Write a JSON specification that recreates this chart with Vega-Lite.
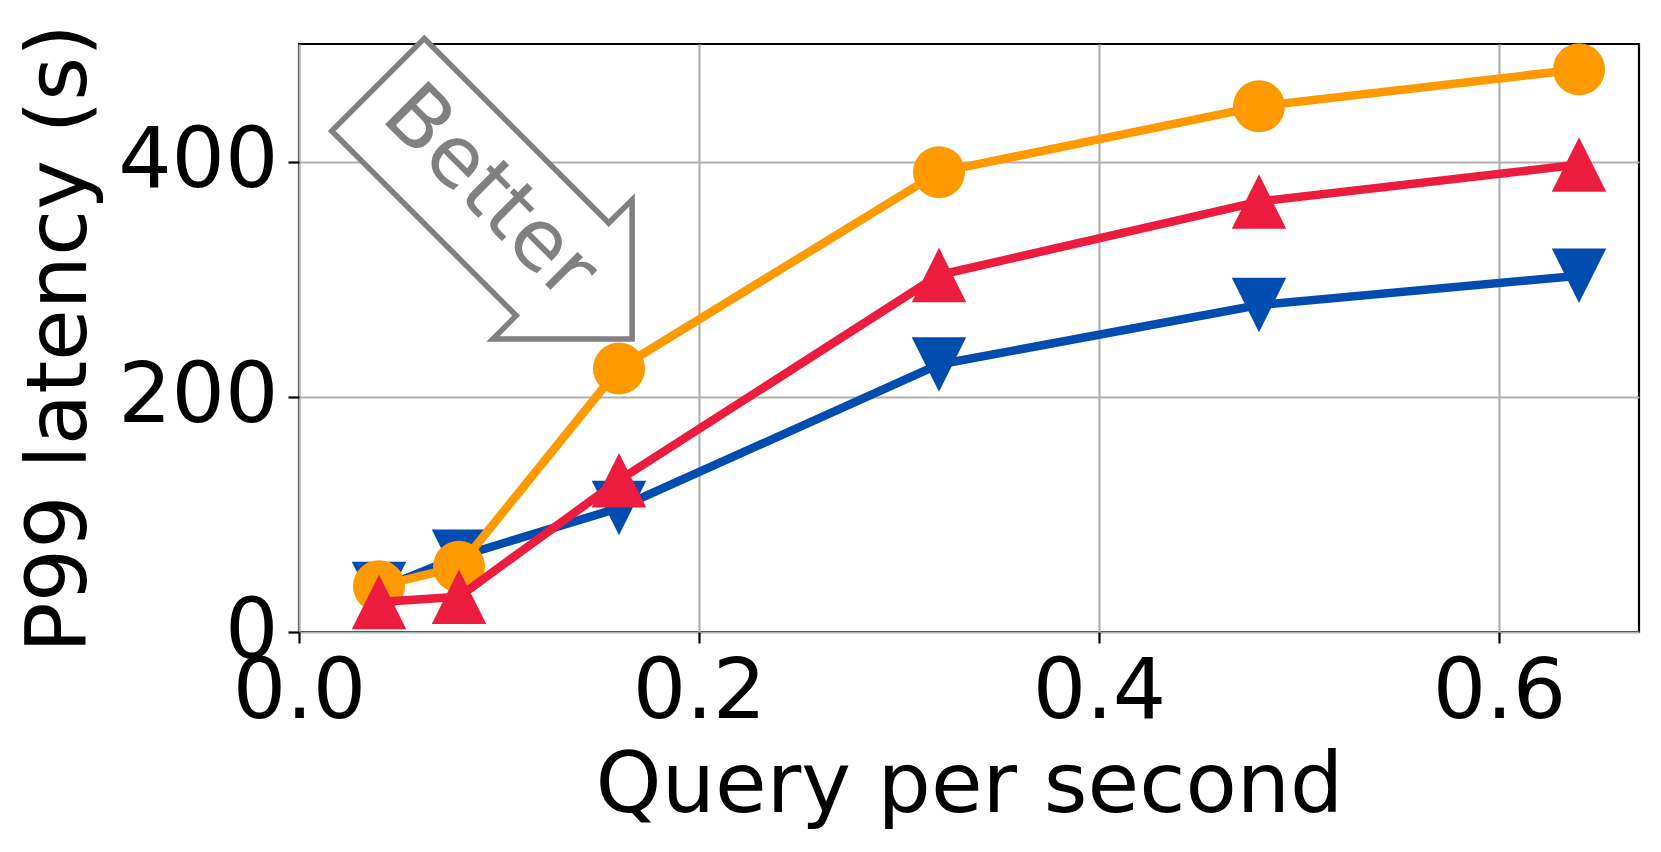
{
  "$schema": "https://vega.github.io/schema/vega-lite/v6.json",
  "autosize": "none",
  "width": 1340,
  "height": 588,
  "padding": {"left": 299, "top": 44, "right": 22, "bottom": 220},
  "background": "white",
  "config": {
    "font": "DejaVu Sans",
    "view": {"stroke": "black", "strokeWidth": 2.2},
    "axis": {
      "domain": false,
      "labelFont": "DejaVu Sans",
      "titleFont": "DejaVu Sans",
      "labelFontSize": 84,
      "titleFontSize": 84,
      "titleFontWeight": "normal",
      "labelColor": "black",
      "titleColor": "black",
      "tickColor": "black",
      "tickWidth": 2.2,
      "tickSize": 11,
      "gridColor": "#b0b0b0",
      "gridWidth": 2.2,
      "labelOverlap": false,
      "labelBound": false,
      "labelFlush": false
    }
  },
  "datasets": {
    "series": [
      {"qps": 0.04, "p99": 36.5, "system": "blue"},
      {"qps": 0.08, "p99": 64, "system": "blue"},
      {"qps": 0.16, "p99": 105.5, "system": "blue"},
      {"qps": 0.32, "p99": 227.5, "system": "blue"},
      {"qps": 0.48, "p99": 278, "system": "blue"},
      {"qps": 0.64, "p99": 303, "system": "blue"},
      {"qps": 0.04, "p99": 39, "system": "orange"},
      {"qps": 0.08, "p99": 55.5, "system": "orange"},
      {"qps": 0.16, "p99": 224, "system": "orange"},
      {"qps": 0.32, "p99": 391, "system": "orange"},
      {"qps": 0.48, "p99": 447, "system": "orange"},
      {"qps": 0.64, "p99": 478.5, "system": "orange"},
      {"qps": 0.04, "p99": 25.5, "system": "red"},
      {"qps": 0.08, "p99": 30, "system": "red"},
      {"qps": 0.16, "p99": 129, "system": "red"},
      {"qps": 0.32, "p99": 303.5, "system": "red"},
      {"qps": 0.48, "p99": 366, "system": "red"},
      {"qps": 0.64, "p99": 397.5, "system": "red"}
    ],
    "note": [
      {"qps": 0.1031, "p99": 357.1, "label": "Better", "part": "arrow"}
    ],
    "notetext": [
      {"qps": 0.0952, "p99": 373.0, "label": "Better"}
    ]
  },
  "encoding": {
    "x": {
      "field": "qps", "type": "quantitative",
      "title": "Query per second",
      "scale": {"domain": [0, 0.67], "nice": false, "zero": false},
      "axis": {"values": [0, 0.2, 0.4, 0.6], "format": ".1f", "labelPadding": 8, "titlePadding": 11}
    },
    "y": {
      "field": "p99", "type": "quantitative",
      "title": "P99 latency (s)",
      "scale": {"domain": [0, 500], "nice": false, "zero": false},
      "axis": {"values": [0, 200, 400], "labelPadding": 10, "titlePadding": 14}
    }
  },
  "layer": [
    {
      "data": {"name": "series"},
      "transform": [{"filter": "datum.system === 'blue'"}],
      "mark": {"type": "line", "strokeWidth": 8.5, "color": "#004DAF"}
    },
    {
      "data": {"name": "series"},
      "transform": [{"filter": "datum.system === 'blue'"}],
      "mark": {"type": "point", "filled": true, "opacity": 1, "strokeWidth": 0, "color": "#004DAF", "shape": "M-1,-1L1,-1L0,1Z", "size": 2970}
    },
    {
      "data": {"name": "series"},
      "transform": [{"filter": "datum.system === 'orange'"}],
      "mark": {"type": "line", "strokeWidth": 8.5, "color": "#FF9900"}
    },
    {
      "data": {"name": "series"},
      "transform": [{"filter": "datum.system === 'orange'"}],
      "mark": {"type": "point", "filled": true, "opacity": 1, "strokeWidth": 0, "color": "#FF9900", "shape": "circle", "size": 2704}
    },
    {
      "data": {"name": "series"},
      "transform": [{"filter": "datum.system === 'red'"}],
      "mark": {"type": "line", "strokeWidth": 8.5, "color": "#EC1C3F"}
    },
    {
      "data": {"name": "series"},
      "transform": [{"filter": "datum.system === 'red'"}],
      "mark": {"type": "point", "filled": true, "opacity": 1, "strokeWidth": 0, "color": "#EC1C3F", "shape": "M0,-1L1,1L-1,1Z", "size": 2970}
    },
    {
      "data": {"name": "note"},
      "mark": {"type": "point", "filled": true, "opacity": 1, "fill": "white", "stroke": "#808080", "strokeWidth": 5.5, "strokeJoin": "miter",
               "shape": "M-81,-173.5L103.5,11L126.9,-12.3L126.9,126.9L-12.3,126.9L11,103.5L-173.5,-81Z", "size": 4}
    },
    {
      "data": {"name": "notetext"},
      "mark": {"type": "text", "angle": 45, "align": "center", "baseline": "middle", "fontSize": 84, "font": "DejaVu Sans", "color": "#808080"},
      "encoding": {"text": {"field": "label"}}
    }
  ]
}
